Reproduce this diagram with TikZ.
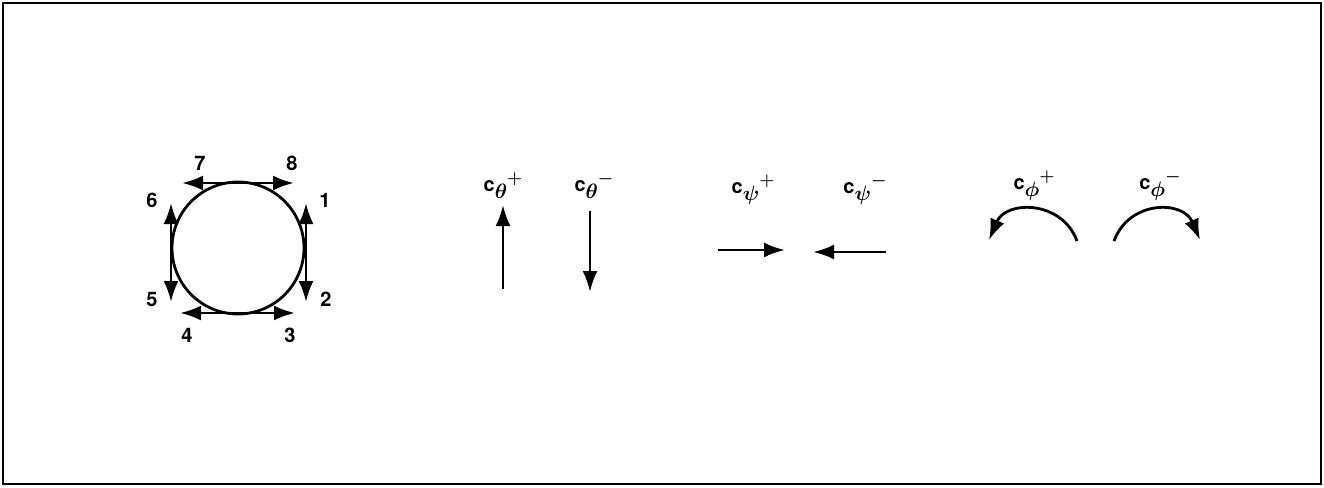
\documentclass[tikz,border=0pt]{standalone}
\usepackage{fontspec}
\setmainfont{TeX Gyre Heros}
\usetikzlibrary{arrows.meta}
\tikzset{
  vec/.style={line width=2.8pt,-{Latex[length=21pt,width=15pt]}},
  dvec/.style={line width=2.8pt,{Latex[length=21pt,width=15pt]}-{Latex[length=21pt,width=15pt]}},
  num/.style={font=\fontsize{20}{22}\selectfont\bfseries,inner sep=0pt},
  lbl/.style={font=\fontsize{20}{22}\selectfont\bfseries\boldmath,inner sep=0pt}
}
\newcommand{\jet}[2]{c\raisebox{-7pt}{\fontsize{22}{22}\selectfont$#1$}\raisebox{8pt}{\fontsize{16}{16}\selectfont$\mathbf{#2}$}}
\begin{document}
\begin{tikzpicture}[x=1pt,y=-1pt]
\useasboundingbox (0,0) rectangle (1324,487);
\draw[line width=2.2pt] (3,3) rectangle (1321,484);
% wheel with the eight jets
\draw[line width=2.8pt] (238,248) circle[radius=66];
\coordinate (t7) at (182,183);
\coordinate (t8) at (294,183);
\coordinate (b4) at (180,313);
\coordinate (b3) at (295,313);
\coordinate (l6) at (171,203);
\coordinate (l5) at (171,302);
\coordinate (r1) at (306,203);
\coordinate (r2) at (306,302);
\draw[dvec] (t7) -- (t8);
\draw[dvec] (b4) -- (b3);
\draw[dvec] (l6) -- (l5);
\draw[dvec] (r1) -- (r2);
\node[num] (n7) at (200,163) {7};
\node[num] (n8) at (292,163) {8};
\node[num] (n6) at (152,200) {6};
\node[num] (n1) at (325,200) {1};
\node[num] (n5) at (152,299) {5};
\node[num] (n2) at (326,299) {2};
\node[num] (n4) at (187,335) {4};
\node[num] (n3) at (290,335) {3};
% theta
\node[lbl] (cthp) at (503,186) {\jet{\theta}{+}};
\node[lbl] (cthm) at (594,186) {\jet{\theta}{-}};
\coordinate (thp0) at (503,289);
\coordinate (thp1) at (503,205);
\coordinate (thm0) at (590,211);
\coordinate (thm1) at (590,292);
\draw[vec] (thp0) -- (thp1);
\draw[vec] (thm0) -- (thm1);
% psi
\node[lbl] (cpsp) at (753,190) {\jet{\psi}{+}};
\node[lbl] (cpsm) at (865,190) {\jet{\psi}{-}};
\coordinate (psp0) at (718,250);
\coordinate (psp1) at (785,250);
\coordinate (psm0) at (886,252);
\coordinate (psm1) at (813,252);
\draw[vec] (psp0) -- (psp1);
\draw[vec] (psm0) -- (psm1);
% phi
\node[lbl] (cphp) at (1034,186) {\jet{\phi}{+}};
\node[lbl] (cphm) at (1160,186) {\jet{\phi}{-}};
\coordinate (php0) at (1077,241);
\coordinate (php1) at (989,240);
\coordinate (phm0) at (1114,241);
\coordinate (phm1) at (1200,240);
\draw[vec] (php0) .. controls (1062,200) and (1006,200) .. (php1);
\draw[vec] (phm0) .. controls (1129,200) and (1183,200) .. (phm1);
\end{tikzpicture}
\end{document}
